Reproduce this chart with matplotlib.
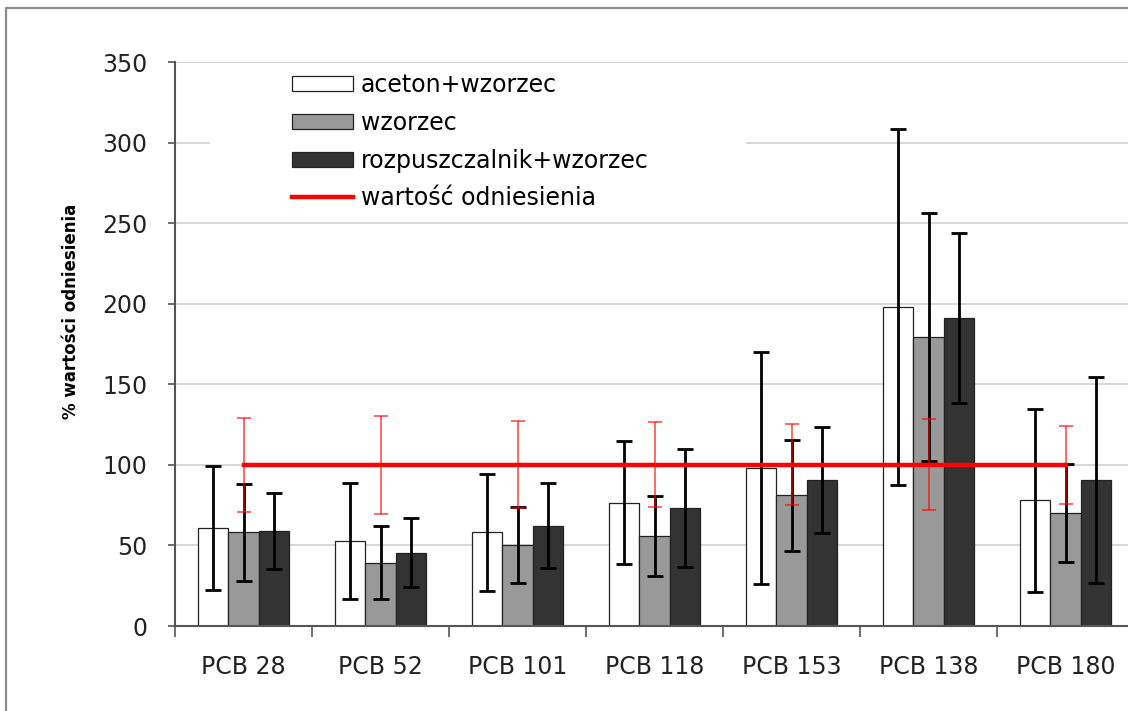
import matplotlib
matplotlib.use("Agg")
import matplotlib.pyplot as plt
from matplotlib.lines import Line2D
import numpy as np

plt.rcParams['font.family'] = ['DejaVu Sans']

# values
categories = ['PCB 28', 'PCB 52', 'PCB 101', 'PCB 118', 'PCB 153', 'PCB 138', 'PCB 180']
aceton = [60.6, 52.8, 58.1, 76.5, 98.1, 197.8, 77.9]
aceton_err = [38.5, 36.2, 36.2, 38.3, 72.0, 110.6, 56.7]
wzorzec = [58.1, 39.3, 50.3, 55.9, 81.0, 179.5, 70.0]
wzorzec_err = [30.3, 22.6, 23.5, 24.8, 34.3, 77.0, 30.4]
rozp = [59.0, 45.5, 62.3, 73.4, 90.6, 191.3, 90.6]
rozp_err = [23.5, 21.6, 26.4, 36.7, 32.6, 52.7, 64.0]
ref = [100, 100, 100, 100, 100, 100, 100]
ref_err = [29.0, 30.6, 27.0, 26.3, 25.2, 28.2, 24.4]

fig = plt.figure(figsize=(11.28, 7.11), dpi=100)
ax = fig.add_axes([175/1128, 1 - 626/711, 959/1128, 564/711])

# outer chart border, only left and top edges are inside the picture
x0, y0 = 6/1128, 1 - 8/711
fig.add_artist(Line2D([x0, x0, 1.0], [0.0, y0, y0], transform=fig.transFigure,
                      color='#8c8c8c', linewidth=1.6))

x = np.arange(len(categories))
bw = 0.223

b1 = ax.bar(x - bw, aceton, bw, color='white', edgecolor='#222222', linewidth=0.9,
            label='aceton+wzorzec', zorder=2)
b2 = ax.bar(x, wzorzec, bw, color='#999999', edgecolor='#222222', linewidth=0.9,
            label='wzorzec', zorder=2)
b3 = ax.bar(x + bw, rozp, bw, color='#333333', edgecolor='#222222', linewidth=0.9,
            label='rozpuszczalnik+wzorzec', zorder=2)

ek = dict(fmt='none', ecolor='black', elinewidth=2, capsize=5.6, capthick=2, zorder=3)
ax.errorbar(x - bw, aceton, yerr=aceton_err, **ek)
ax.errorbar(x, wzorzec, yerr=wzorzec_err, **ek)
ax.errorbar(x + bw, rozp, yerr=rozp_err, **ek)

ln, = ax.plot(x, ref, color='#ff0000', linewidth=3.2, label='wartość odniesienia', zorder=4)
ax.errorbar(x, ref, yerr=ref_err, fmt='none', ecolor='#ff0000', elinewidth=1.1,
            capsize=4.7, capthick=1.1, alpha=0.75, zorder=5)

ax.set_xlim(-0.5, 6.5)
ax.set_ylim(0, 350)

# gridlines; the one at 300 is broken by the legend box
for v in [50, 100, 150, 200, 250, 350]:
    ax.axhline(v, color='#d4d4d4', linewidth=1.3, zorder=1)
ax.axhline(300, xmin=0, xmax=0.035, color='#d4d4d4', linewidth=1.3, zorder=1)
ax.axhline(300, xmin=0.596, xmax=1, color='#d4d4d4', linewidth=1.3, zorder=1)

ax.set_yticks(np.arange(0, 351, 50))
ax.tick_params(axis='y', length=5, width=1.2, color='#555555', pad=15,
               labelsize=17, labelcolor='#222222')
ax.set_xticks(np.arange(-0.5, 7, 1))
ax.set_xticklabels([])
ax.set_xticks(x, minor=True)
ax.set_xticklabels(categories, minor=True)
ax.tick_params(axis='x', which='major', length=8, width=1.2, color='#555555')
ax.tick_params(axis='x', which='minor', length=0, pad=21, labelsize=17, labelcolor='#222222')

for s in ['top', 'right']:
    ax.spines[s].set_visible(False)
for s in ['left', 'bottom']:
    ax.spines[s].set_color('#555555')
    ax.spines[s].set_linewidth(1.5)

ax.set_ylabel('% wartości odniesienia', fontsize=12, fontweight='bold')
ax.yaxis.set_label_coords(-0.099, 0.558)

ax.legend(handles=[b1, b2, b3, ln], loc='upper left', bbox_to_anchor=(0.122, 0.98),
          frameon=False, fontsize=17, handlelength=2.58, handleheight=0.6,
          handletextpad=0.34, labelspacing=0.58, borderpad=0, borderaxespad=0)

fig.savefig('out.png', dpi=100)
